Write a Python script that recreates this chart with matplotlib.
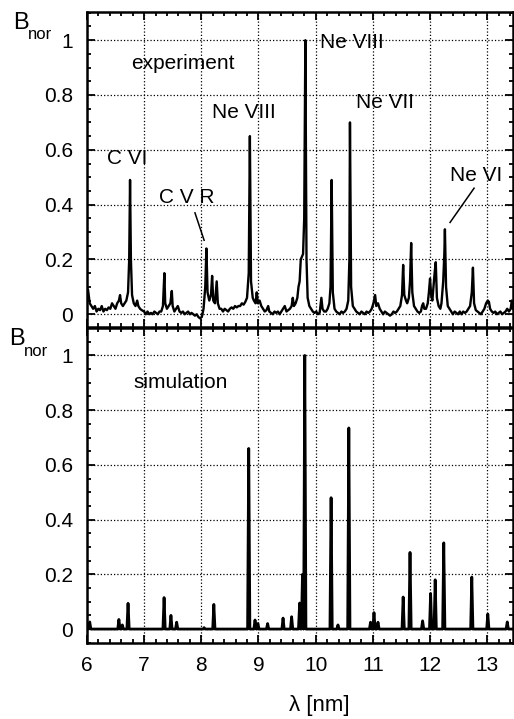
import numpy as np
import matplotlib
matplotlib.use("Agg")
import matplotlib.pyplot as plt
from matplotlib.ticker import MultipleLocator, FuncFormatter

plt.rcParams['font.family'] = ['Liberation Sans', 'DejaVu Sans']

# measured spectrum (wavelength in nm, normalised brightness)
exp_wl = [6.00, 6.02, 6.05, 6.08, 6.11, 6.14, 6.17, 6.20, 6.23, 6.26, 6.29, 6.32,
          6.35, 6.38, 6.41, 6.44, 6.47, 6.50, 6.53, 6.56, 6.58, 6.60, 6.63, 6.66,
          6.69, 6.72, 6.74, 6.755, 6.77, 6.79, 6.82, 6.85, 6.88, 6.90, 6.93, 6.96,
          7.00, 7.03, 7.06, 7.09, 7.12, 7.15, 7.18, 7.21, 7.24, 7.27, 7.30, 7.33,
          7.355, 7.37, 7.40, 7.43, 7.46, 7.485, 7.50, 7.53, 7.56, 7.59, 7.62, 7.65,
          7.68, 7.71, 7.74, 7.77, 7.80, 7.83, 7.86, 7.89, 7.92, 7.95, 7.98, 8.01,
          8.04, 8.07, 8.09, 8.11, 8.14, 8.17, 8.19, 8.21, 8.24, 8.27, 8.29, 8.32,
          8.35, 8.38, 8.41, 8.44, 8.47, 8.50, 8.53, 8.56, 8.59, 8.62, 8.65, 8.68,
          8.71, 8.74, 8.77, 8.80, 8.83, 8.85, 8.87, 8.90, 8.92, 8.95, 8.97, 8.99,
          9.02, 9.05, 9.08, 9.11, 9.14, 9.17, 9.19, 9.22, 9.25, 9.28, 9.31, 9.34,
          9.37, 9.40, 9.43, 9.46, 9.49, 9.52, 9.55, 9.58, 9.60, 9.62, 9.65, 9.68,
          9.70, 9.72, 9.74, 9.76, 9.78, 9.80, 9.82, 9.84, 9.86, 9.89, 9.92, 9.95,
          9.98, 10.01, 10.04, 10.07, 10.10, 10.12, 10.15, 10.18, 10.21, 10.24, 10.26, 10.28,
          10.30, 10.33, 10.36, 10.39, 10.42, 10.45, 10.48, 10.51, 10.54, 10.57, 10.59, 10.60,
          10.62, 10.65, 10.68, 10.71, 10.74, 10.77, 10.80, 10.83, 10.86, 10.89, 10.92, 10.95,
          10.98, 11.01, 11.04, 11.06, 11.09, 11.12, 11.15, 11.18, 11.21, 11.24, 11.27, 11.30,
          11.33, 11.36, 11.39, 11.42, 11.45, 11.48, 11.51, 11.53, 11.55, 11.58, 11.60, 11.63,
          11.65, 11.67, 11.69, 11.72, 11.75, 11.78, 11.81, 11.84, 11.86, 11.88, 11.90, 11.93,
          11.96, 11.98, 12.00, 12.02, 12.04, 12.06, 12.08, 12.10, 12.12, 12.15, 12.18, 12.20,
          12.23, 12.25, 12.26, 12.28, 12.31, 12.34, 12.37, 12.40, 12.43, 12.46, 12.49, 12.52,
          12.55, 12.58, 12.61, 12.64, 12.67, 12.70, 12.73, 12.75, 12.77, 12.80, 12.83, 12.86,
          12.89, 12.92, 12.95, 12.98, 13.01, 13.03, 13.05, 13.08, 13.11, 13.14, 13.17, 13.20,
          13.23, 13.26, 13.29, 13.32, 13.35, 13.38, 13.41, 13.43, 13.45]
exp_b = [0.05, 0.09, 0.04, 0.03, 0.02, 0.03, 0.01, 0.02, 0.015, 0.03, 0.01, 0.02,
         0.015, 0.025, 0.02, 0.04, 0.03, 0.02, 0.04, 0.05, 0.07, 0.04, 0.03, 0.04,
         0.05, 0.08, 0.2, 0.49, 0.2, 0.07, 0.04, 0.03, 0.05, 0.03, 0.02, 0.015,
         0.01, 0.0, 0.01, 0.0, 0.005, 0.0, 0.01, 0.005, 0.0, 0.01, 0.01, 0.03,
         0.15, 0.04, 0.02, 0.03, 0.04, 0.085, 0.03, 0.01, 0.02, 0.03, 0.01, 0.005,
         0.01, 0.0, 0.005, 0.01, 0.0, 0.005, 0.0, -0.005, 0.0, -0.01, -0.015, -0.01,
         0.02, 0.1, 0.24, 0.08, 0.05, 0.07, 0.14, 0.05, 0.04, 0.12, 0.04, 0.02,
         0.02, 0.01, 0.02, 0.015, 0.01, 0.02, 0.025, 0.02, 0.03, 0.025, 0.03, 0.03,
         0.04, 0.035, 0.045, 0.06, 0.15, 0.65, 0.12, 0.06, 0.05, 0.04, 0.08, 0.04,
         0.05, 0.03, 0.02, 0.01, 0.015, 0.03, 0.01, 0.005, 0.0, 0.01, 0.005, 0.01,
         0.0, 0.01, 0.02, 0.03, 0.01, 0.015, 0.02, 0.03, 0.06, 0.03, 0.04, 0.06,
         0.1, 0.12, 0.2, 0.21, 0.22, 0.35, 1.0, 0.2, 0.06, 0.03, 0.02, 0.01,
         0.005, 0.01, 0.0, 0.005, 0.06, 0.02, 0.01, 0.01, 0.02, 0.04, 0.1, 0.49,
         0.08, 0.02, 0.01, 0.005, 0.0, 0.01, 0.005, 0.01, 0.02, 0.05, 0.2, 0.70,
         0.1, 0.03, 0.02, 0.01, 0.005, 0.0, 0.01, 0.005, 0.0, 0.01, 0.005, 0.01,
         0.02, 0.04, 0.07, 0.03, 0.04, 0.02, 0.01, 0.0, 0.01, 0.005, 0.0, -0.005,
         0.0, 0.01, 0.005, 0.01, 0.02, 0.03, 0.07, 0.18, 0.07, 0.05, 0.04, 0.06,
         0.12, 0.26, 0.08, 0.03, 0.02, 0.01, 0.005, 0.01, 0.03, 0.04, 0.02, 0.02,
         0.04, 0.08, 0.13, 0.07, 0.05, 0.1, 0.15, 0.19, 0.06, 0.03, 0.02, 0.04,
         0.12, 0.22, 0.31, 0.1, 0.03, 0.02, 0.01, 0.0, 0.01, 0.005, 0.0, 0.01,
         0.0, 0.01, 0.005, 0.01, 0.02, 0.03, 0.08, 0.17, 0.04, 0.015, 0.01, 0.005,
         0.0, 0.01, 0.02, 0.04, 0.05, 0.045, 0.02, 0.01, 0.005, 0.01, 0.0, 0.005,
         0.01, 0.0, 0.005, 0.01, 0.02, 0.01, 0.02, 0.05, 0.02]

# simulated lines: centre wavelength and peak brightness
sim_wl = [6.05, 6.56, 6.62, 6.72, 7.35, 7.47, 7.57, 8.05, 8.22, 8.83, 8.94, 8.99,
          9.16, 9.43, 9.58, 9.72, 9.77, 9.81, 10.27, 10.39, 10.58, 10.96, 11.02, 11.09,
          11.53, 11.65, 11.87, 12.01, 12.09, 12.24, 12.73, 13.01, 13.35]
sim_b = [0.026, 0.035, 0.015, 0.094, 0.115, 0.05, 0.025, 0.005, 0.09, 0.66, 0.033, 0.02,
         0.02, 0.04, 0.045, 0.095, 0.2, 1.0, 0.48, 0.015, 0.735, 0.025, 0.06, 0.025,
         0.117, 0.28, 0.03, 0.13, 0.18, 0.315, 0.19, 0.055, 0.026]
SIM_HALF_WIDTH = 0.02

y_ticks = [0, 0.2, 0.4, 0.6, 0.8, 1.0]
x_ticks = [6, 7, 8, 9, 10, 11, 12, 13]


def sim_profile(centres, heights, hw):
    # narrow triangular line shapes on a zero baseline
    xs, ys = [6.0], [0.0]
    for c, h in zip(centres, heights):
        xs += [c - hw, c, c + hw]
        ys += [0.0, h, 0.0]
    xs.append(13.45)
    ys.append(0.0)
    return xs, ys


def style_axis(ax, ylim):
    ax.set_xlim(6.0, 13.45)
    ax.set_ylim(*ylim)
    ax.set_xticks(x_ticks)
    ax.set_yticks(y_ticks)
    ax.xaxis.set_minor_locator(MultipleLocator(0.2))
    ax.yaxis.set_minor_locator(MultipleLocator(0.05))
    ax.yaxis.set_major_formatter(FuncFormatter(lambda v, p: "%g" % v))
    ax.tick_params(which='both', direction='in', top=True, right=True,
                   labelsize=15, width=1.3)
    ax.tick_params(which='major', length=6)
    ax.tick_params(which='minor', length=3)
    ax.tick_params(axis='y', pad=10)
    ax.tick_params(axis='x', pad=9)
    ax.grid(True, which='major', color='black', linestyle=':', linewidth=0.9)
    for s in ax.spines.values():
        s.set_linewidth(1.8)


fig = plt.figure(figsize=(5.14, 7.19), dpi=100)
ax1 = fig.add_axes([0.169, 0.545, 0.829, 0.438])
ax2 = fig.add_axes([0.169, 0.1057, 0.829, 0.438], sharex=ax1)

ax1.plot(exp_wl, exp_b, color='black', linewidth=1.7)
style_axis(ax1, (-0.047, 1.102))
ax1.tick_params(axis='x', labelbottom=False)

sx, sy = sim_profile(sim_wl, sim_b, SIM_HALF_WIDTH)
ax2.plot(sx, sy, color='black', linewidth=2.0)
style_axis(ax2, (-0.051, 1.10))
ax2.set_xlabel(u"\u03bb [nm]", fontsize=16)
ax2.xaxis.set_label_coords(0.545, -0.165)

# panel labels and line identifications
ax1.text(7.68, 0.916, "experiment", fontsize=15, ha='center', va='center')
ax2.text(7.64, 0.90, "simulation", fontsize=15, ha='center', va='center')
ax1.text(6.70, 0.57, "C VI", fontsize=15, ha='center', va='center')
ax1.text(7.75, 0.427, "C V R", fontsize=15, ha='center', va='center')
ax1.plot([7.89, 8.05], [0.37, 0.27], color='black', linewidth=1.1)
ax1.text(8.74, 0.737, "Ne VIII", fontsize=15, ha='center', va='center')
ax1.text(10.64, 0.99, "Ne VIII", fontsize=15, ha='center', va='center')
ax1.text(11.22, 0.774, "Ne VII", fontsize=15, ha='center', va='center')
ax1.text(12.80, 0.507, "Ne VI", fontsize=15, ha='center', va='center')
ax1.plot([12.77, 12.35], [0.46, 0.335], color='black', linewidth=1.1)

# B_nor axis titles
for y_b, y_n, x_b in [(0.968, 0.952, 0.025), (0.528, 0.511, 0.018)]:
    fig.text(x_b, y_b, "B", fontsize=17, ha='left', va='center')
    fig.text(x_b + 0.029, y_n, "nor", fontsize=12, ha='left', va='center')

fig.savefig("out.png", dpi=100)
